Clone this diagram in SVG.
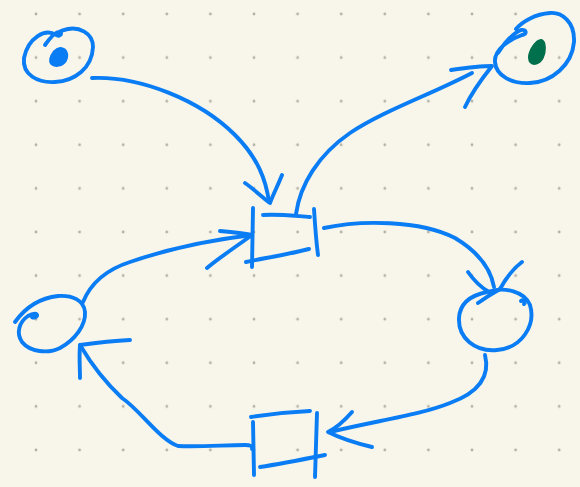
<svg xmlns="http://www.w3.org/2000/svg" width="580" height="487" viewBox="0 0 580 487">
  <defs>
    <pattern id="dots" patternUnits="userSpaceOnUse" x="14.2" y="-7.8" width="43.6" height="43.6">
      <circle cx="21.8" cy="21.8" r="1.4" fill="#b3b0a6"/>
    </pattern>
    <style>
      .ink { fill: none; stroke: #0a7cf4; stroke-width: 3.9; stroke-linecap: round; stroke-linejoin: round; }
      .blue { fill: #0a7cf4; stroke: #0a7cf4; stroke-width: 1.5; }
      .green { fill: #006f4c; stroke: #006f4c; stroke-width: 1.5; }
    </style>
  </defs>

  <!-- paper -->
  <rect width="580" height="487" fill="#f8f6eb"/>
  <rect width="580" height="487" fill="url(#dots)"/>

  <!-- places -->
  <g id="place-top-left">
    <path class="ink" d="M45,45 C50,38 56,31 60,32 C63,34 59,37 56,35 C45,28 28,38 24,58 C22,75 38,83 55,82 C75,81 92,68 93,47 C93,32 78,27 68,29 C63,30 60,31 58,33"/>
    <path class="blue" d="M62,48 C67,49 69,55 66,61 C63,66 55,68 51,64 C48,60 51,55 54,51 C57,48 59,47 62,48 Z"/>
  </g>

  <g id="place-top-right">
    <path class="ink" d="M498,53 C505,42 514,33 521,30 C527,29 527,34 522,35 C508,40 494,50 495,62 C496,76 512,84 530,83 C552,82 572,65 574,42 C575,22 562,12 550,13 C535,14 522,22 516,29"/>
    <path class="green" d="M542,40 C546,42 546,52 543,58 C540,64 533,66 530,62 C527,57 530,50 533,46 C536,42 539,39 542,40 Z"/>
  </g>

  <g id="place-left">
    <path class="ink" d="M15,322 C25,308 40,298 58,296 C72,295 84,300 85,312 C86,325 75,340 60,348 C48,354 30,352 22,342 C16,333 19,322 28,316 C33,313 38,313 37,316 C36,318 33,318 32,317"/>
  </g>

  <g id="place-right">
    <path class="ink" d="M487,292 C505,286 525,292 530,305 C536,325 522,348 497,350 C475,352 458,338 459,318 C460,302 472,295 487,292 Z"/>
    <path class="ink" d="M521,301 C523,299 526,302 524,304"/>
  </g>

  <!-- transitions -->
  <g id="transition-top">
    <path class="ink" d="M253,208 L252,267"/>
    <path class="ink" d="M263,215 C280,214 295,216 310,217"/>
    <path class="ink" d="M314,209 C315,225 316,240 318,255"/>
    <path class="ink" d="M246,262 C265,258 290,254 309,249"/>
  </g>

  <g id="transition-bottom">
    <path class="ink" d="M251,417 C270,414 290,412 310,411"/>
    <path class="ink" d="M253,422 L254,475"/>
    <path class="ink" d="M317,413 L315,477"/>
    <path class="ink" d="M260,467 C280,464 305,459 325,455"/>
  </g>

  <!-- arcs -->
  <g id="connectors">
    <!-- top-left place to top transition -->
    <path class="ink" d="M92,78 C140,76 200,100 235,135 C258,158 266,180 269,202"/>
    <path class="ink" d="M245,183 C255,190 263,198 270,203 C273,195 278,185 282,175"/>

    <!-- top transition to top-right place -->
    <path class="ink" d="M296,214 C300,185 318,155 350,133 C385,110 430,95 472,73"/>
    <path class="ink" d="M451,70 C465,68 480,66 492,66 C484,76 472,92 465,107"/>

    <!-- left place to top transition -->
    <path class="ink" d="M83,302 C90,285 105,270 130,262 C165,250 210,240 252,235"/>
    <path class="ink" d="M220,231 C232,232 243,233 252,235 C237,246 220,257 207,268"/>

    <!-- top transition to right place -->
    <path class="ink" d="M324,228 C360,220 420,220 455,238 C475,250 490,265 494,287"/>
    <path class="ink" d="M468,272 C475,282 482,288 489,292 C493,292 497,291 500,289"/>
    <path class="ink" d="M478,303 C485,298 493,293 500,289 C506,278 514,268 522,262"/>

    <!-- right place to bottom transition -->
    <path class="ink" d="M485,355 C490,375 480,392 450,403 C420,415 380,420 330,432"/>
    <path class="ink" d="M352,412 C345,420 336,428 328,432 C340,438 355,443 372,447"/>

    <!-- bottom transition to left place -->
    <path class="ink" d="M252,449 C253,446 250,445 245,445 C225,445 200,447 178,446 C160,440 140,410 122,398 C105,382 90,362 80,345"/>
    <path class="ink" d="M130,340 C112,341 95,343 80,345 C79,357 80,368 80,378"/>
  </g>
</svg>
